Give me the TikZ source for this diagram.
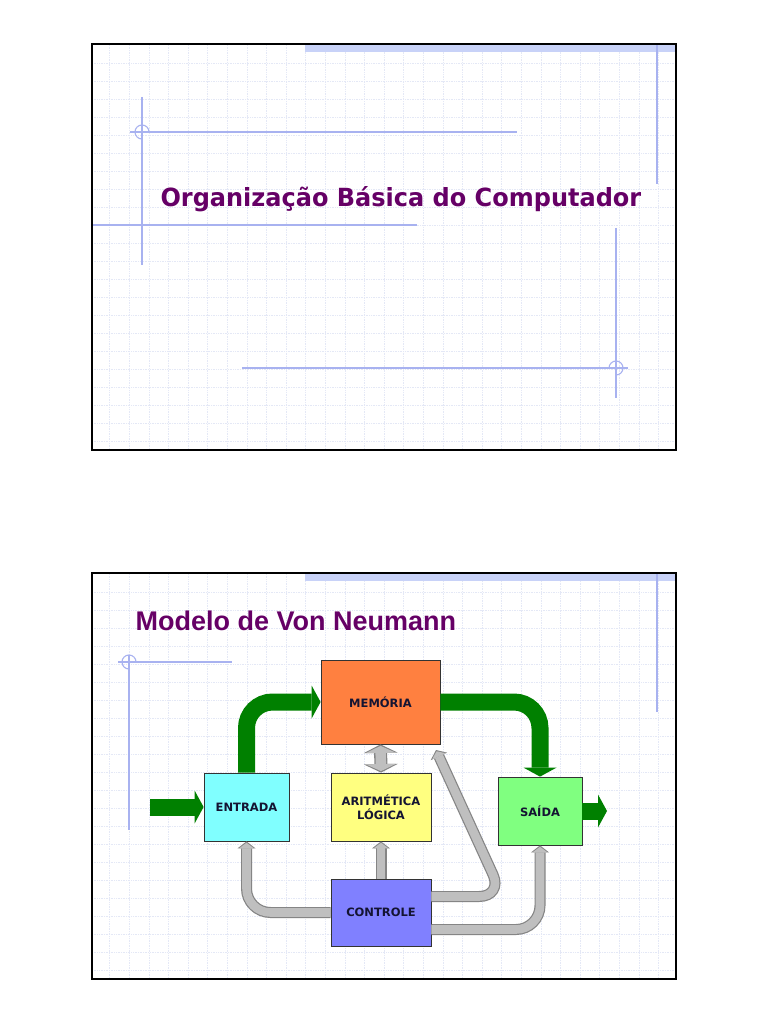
\documentclass[tikz,border=0pt]{standalone}
\usepackage{fontspec}
\usepackage{graphicx}
\usetikzlibrary{arrows.meta, positioning}
\newfontfamily\tahoma{DejaVu Sans}
\newfontfamily\arial{Liberation Sans}
\definecolor{gridblue}{RGB}{228,232,246}
\definecolor{decoblue}{RGB}{168,178,240}
\definecolor{bandblue}{RGB}{200,210,248}
\definecolor{titlepurple}{RGB}{102,0,102}
\definecolor{flowgreen}{RGB}{0,128,0}
\definecolor{labelnavy}{RGB}{20,20,50}
\tikzset{
slide frame/.style={draw=black, line width=1.4pt},
deco/.style={draw=decoblue, line width=1.1pt},
grid dots/.style={draw=gridblue, densely dotted, line width=0.7pt},
unit/.style={draw=black!80, line width=0.8pt, inner sep=0pt, align=center,
  text=labelnavy, font=\tahoma\bfseries\fontsize{11.5}{13.5}\selectfont},
flow/.style={draw=flowgreen, line width=17pt, rounded corners=26pt,
  -{Triangle[width=33pt,length=9pt,line width=0pt]}},
bus edge/.style={draw=black!48, line width=11pt, rounded corners=24pt,
  -{Triangle[width=18pt,length=7pt,line width=0pt]}},
bus fill/.style={draw=black!25, line width=8.6pt, rounded corners=24pt, shorten >=1.4pt,
  -{Triangle[width=15pt,length=5.6pt,line width=0pt]}}
}
% bus connector: outline first, then the lighter core
\newcommand{\bus}[1]{\draw[bus edge] #1; \draw[bus fill] #1;}
% slide background with its dotted grid, offset by #1
\newcommand{\slidebg}[1]{
\begin{scope}[yshift=-#1pt]
  \fill[white] (92,44) rectangle (676,450);
  \begin{scope}
    \clip (92,44) rectangle (676,450);
    \foreach \k in {1,...,29} \draw[grid dots] ({90.2+19.6*\k},45) -- ({90.2+19.6*\k},450);
    \foreach \k in {0,...,21} \draw[grid dots] (92,{63+18*\k}) -- (676,{63+18*\k});
  \end{scope}
  \fill[bandblue] (305,45) rectangle (676,52);
\end{scope}
}
\begin{document}
\begin{tikzpicture}[x=1pt, y=-1pt]
\useasboundingbox (0,0) rectangle (768,1024);
\fill[white] (0,0) rectangle (768,1024);

% first slide
\slidebg{0}
\draw[deco] (142,97) -- (142,265);
\draw[deco] (130,132) -- (517,132);
\draw[deco] (149,132) arc[start angle=0, end angle=-270, radius=7];
\draw[deco] (92,225) -- (417,225);
\draw[deco] (657,45) -- (657,184);
\draw[deco] (616,228) -- (616,398);
\draw[deco] (242,368) -- (628,368);
\draw[deco] (616,375) arc[start angle=90, end angle=-180, radius=7];
\node[anchor=base west, text=titlepurple, font=\tahoma\bfseries\fontsize{25}{30}\selectfont]
  (title) at (157,207) {\scalebox{0.96}[1]{Organização Básica do Computador}};
\draw[slide frame] (92,44) rectangle (676,450);

% second slide
\slidebg{529}
\draw[deco] (118,662) -- (232,662);
\draw[deco] (129,655) -- (129,830);
\draw[deco] (136,662) arc[start angle=0, end angle=-270, radius=7];
\draw[deco] (657,574) -- (657,712);
\node[anchor=base west, text=titlepurple, font=\arial\bfseries\fontsize{27}{30}\selectfont]
  (model) at (132,630) {Modelo de Von Neumann};

\node[unit, fill={rgb,255:red,255;green,128;blue,64}, minimum width=119pt, minimum height=84pt]
  (memoria) at (380.5,702) {MEMÓRIA};
\node[unit, fill={rgb,255:red,128;green,255;blue,255}, minimum width=85pt, minimum height=68pt]
  (entrada) at (246.5,807) {ENTRADA};
\node[unit, fill={rgb,255:red,255;green,255;blue,128}, minimum width=100pt, minimum height=68pt]
  (alu) at (381,807) {ARITMÉTICA\\LÓGICA};
\node[unit, fill={rgb,255:red,128;green,255;blue,128}, minimum width=84pt, minimum height=68pt]
  (saida) at (540,811) {SAÍDA};
\node[unit, fill={rgb,255:red,128;green,128;blue,255}, minimum width=100pt, minimum height=67pt]
  (controle) at (381,912.5) {CONTROLE};
\coordinate (inlet) at (150,807);
\coordinate (outlet) at (607,811);
\coordinate (bend) at (503,896.5);
\coordinate (memtip) at (436,750);

% data paths
\draw[flow] (inlet) -- (entrada.west);
\draw[flow] (entrada.north) |- (memoria.west);
\draw[flow] (memoria.east) -| (saida.north);
\draw[flow] (saida.east) -- (outlet);

% control paths
\bus{(controle.north) -- (alu.south)}
\bus{(controle.west) -| (entrada.south)}
\bus{([yshift=-17pt]controle.east) -| (saida.south)}
\bus{([yshift=16pt]controle.east) -- (bend) -- (memtip)}
\draw[draw=black!48, line width=13pt, {Triangle[width=34pt,length=8.5pt,line width=0pt]}-{Triangle[width=34pt,length=8.5pt,line width=0pt]}]
  (memoria.south) -- (alu.north);
\draw[draw=black!25, line width=10.4pt, shorten <=1.5pt, shorten >=1.5pt,
  {Triangle[width=30pt,length=7pt,line width=0pt]}-{Triangle[width=30pt,length=7pt,line width=0pt]}]
  (memoria.south) -- (alu.north);

\draw[slide frame] (92,573) rectangle (676,979);
\end{tikzpicture}
\end{document}
